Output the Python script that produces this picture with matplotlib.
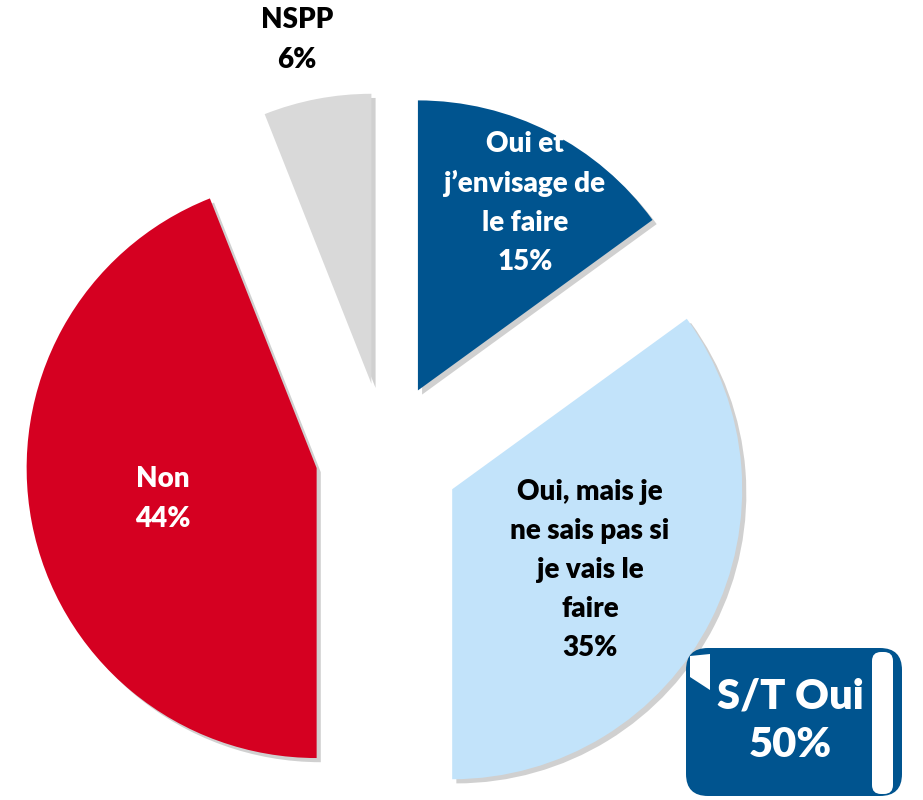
import matplotlib.pyplot as plt
import matplotlib.patheffects as pe
from matplotlib.patches import FancyBboxPatch, Polygon

# Données
categories = ['Oui et\nj’envisage de\nle faire',
              'Oui, mais je\nne sais pas si\nje vais le\nfaire',
              'Non',
              'NSPP']
valeurs = [15, 35, 44, 6]
couleurs = ['#00548F', '#C2E3FA', '#D50021', '#D9D9D9']
couleurs_texte = ['white', 'black', 'white', 'black']
total_oui = 'S/T Oui\n50%'

plt.rcParams['font.family'] = ['Lato', 'DejaVu Sans']

W, H = 923, 800
fig = plt.figure(figsize=(W / 100, H / 100), dpi=100)
ax = fig.add_axes([0, 0, 1, 1])

# centre du camembert et rayon en pixels
cx, cy, r = 385, 455, 290


def px(x, y):
    # pixels -> coordonnées du camembert (rayon 1)
    return (x - cx) / r, (cy - y) / r


ombre = [pe.SimplePatchShadow(offset=(3, -3), shadow_rgbFace='#8a8a8a', alpha=0.4),
         pe.Normal()]

wedges, _ = ax.pie(valeurs, colors=couleurs, startangle=90, counterclock=False,
                   explode=[0.25, 0.26, 0.24, 0.25], radius=1,
                   wedgeprops=dict(linewidth=0, path_effects=ombre))

ax.set_xlim(-cx / r, (W - cx) / r)
ax.set_ylim((cy - H) / r, cy / r)
ax.set_aspect('auto')
ax.axis('off')

# étiquettes
positions = [(525, 203), (590, 570), (163, 499), (297, 40)]
for cat, v, (x, y), c in zip(categories, valeurs, positions, couleurs_texte):
    tx, ty = px(x, y)
    ax.text(tx, ty, f'{cat}\n{v}%', ha='center', va='center', color=c,
            fontsize=20, fontweight='heavy', linespacing=1.62, zorder=5)

# encadré S/T Oui
ax2 = fig.add_axes([0, 0, 1, 1])
ax2.set_xlim(0, W)
ax2.set_ylim(H, 0)
ax2.axis('off')
ax2.add_patch(FancyBboxPatch((686, 648), 216, 148,
                             boxstyle='round,pad=0,rounding_size=22',
                             facecolor='#00548F', edgecolor='none'))
ax2.add_patch(FancyBboxPatch((872, 652), 21, 142,
                             boxstyle='round,pad=0,rounding_size=9',
                             facecolor='white', edgecolor='none'))
ax2.add_patch(Polygon([(690, 656), (710, 654), (710, 690), (690, 677)],
                      closed=True, facecolor='white', edgecolor='none'))
ax2.text(790, 721, total_oui, ha='center', va='center', color='white',
         fontsize=30, fontweight='heavy', linespacing=1.35)

plt.savefig('out.png', dpi=100)
